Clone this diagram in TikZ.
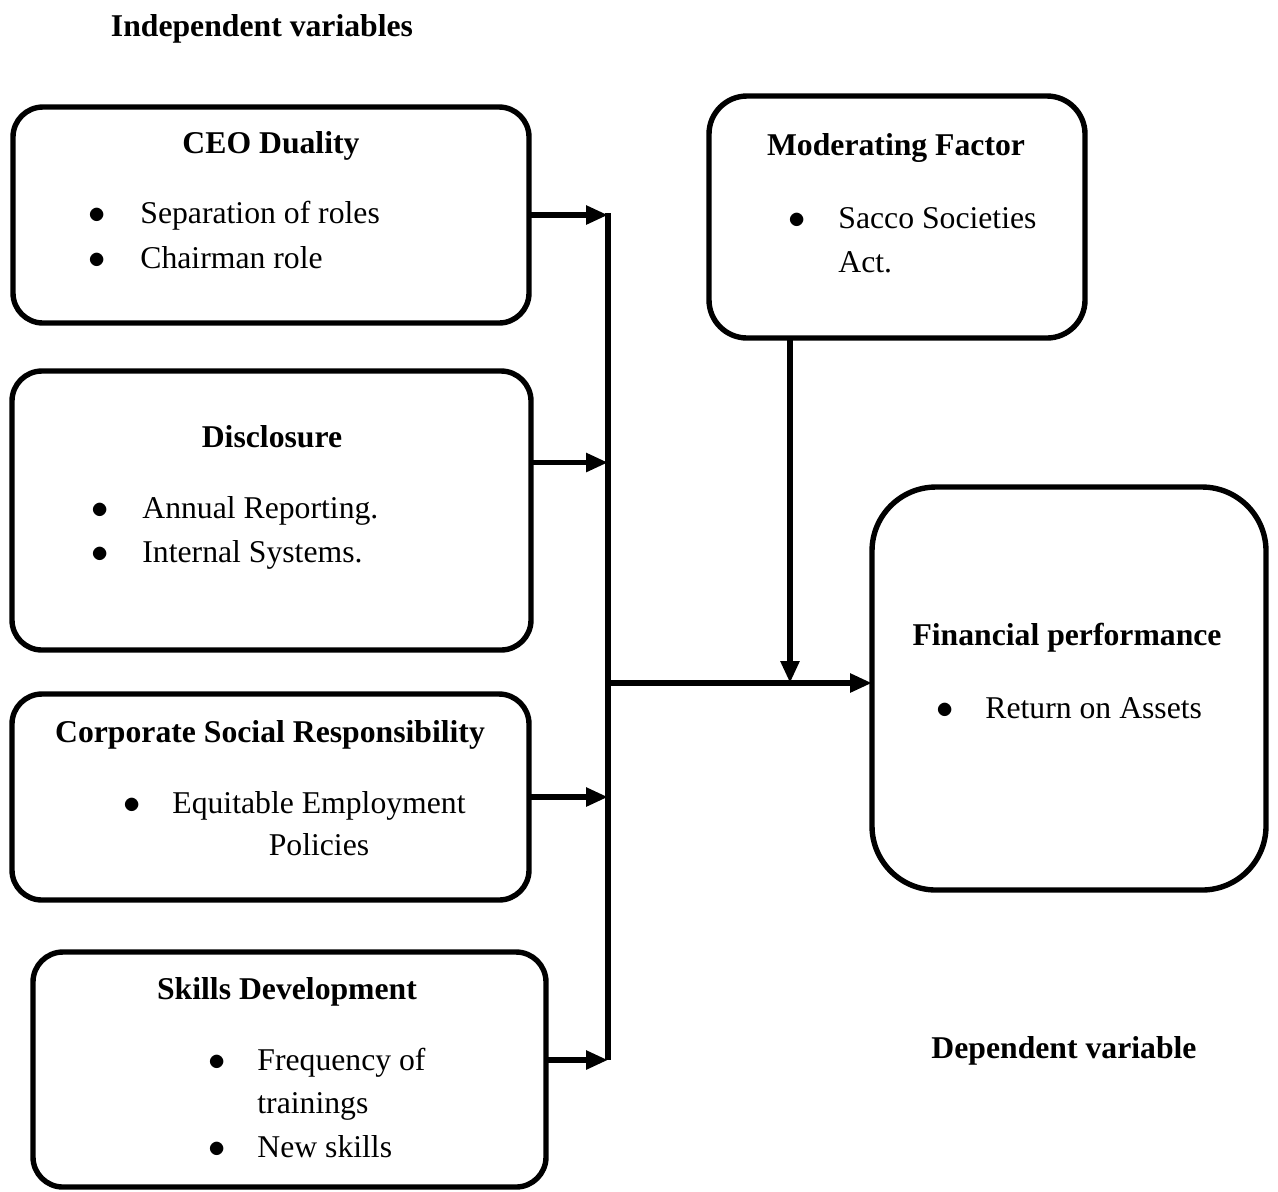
\documentclass[tikz,border=0pt]{standalone}
\usepackage{fontspec}
\setmainfont{Liberation Serif}
\usetikzlibrary{arrows.meta,positioning}
\newcommand{\bodysize}{\fontsize{15.85pt}{22pt}\selectfont}
\newcommand{\blt}{$\bullet$}
\tikzset{
  box/.style  = {rectangle, rounded corners=15pt, draw=black, line width=2.7pt,
                 inner sep=0pt, outer sep=0pt},
  ttl/.style  = {font=\bodysize\bfseries, anchor=base, inner sep=0pt},
  itm/.style  = {font=\bodysize, anchor=base west, inner sep=0pt},
  dot/.style  = {font=\bodysize, anchor=base, inner sep=0pt},
  arr/.style  = {-{Triangle[length=11pt,width=9pt]}, line width=2.8pt},
  bus/.style  = {line width=2.8pt}
}

\begin{document}
\begin{tikzpicture}[x=0.5pt, y=-0.5pt]
  \useasboundingbox (0,0) rectangle (1278,1191);
  % boxes
  \node[box, minimum width=258pt, minimum height=108pt]   (ceo)  at (271,215) {};
  \node[box, minimum width=259.5pt, minimum height=139.5pt] (disc) at (271.5,510.5) {};
  \node[box, minimum width=258.5pt, minimum height=103pt] (csr)  at (270.5,797) {};
  \node[box, minimum width=256.5pt, minimum height=117.5pt] (skl) at (289.5,1069.5) {};
  \node[box, rounded corners=19pt, minimum width=188pt, minimum height=121pt] (mod) at (897,217) {};
  \node[box, rounded corners=32pt, minimum width=197pt, minimum height=201.5pt] (fin) at (1069,688.5) {};
  % headings
  \node[ttl] (indep) at (262,36) {Independent variables};
  \node[ttl] (dep)   at (1064,1058) {Dependent variable};
  % CEO duality
  \node[ttl] (ceot) at (271,153) {CEO Duality};
  \node[dot] (ceod1) at (97,223) {\blt};
  \node[itm] (ceo1)  at (140,223) {Separation of roles};
  \node[dot] (ceod2) at (97,268) {\blt};
  \node[itm] (ceo2)  at (140,268) {Chairman role};
  % disclosure
  \node[ttl] (disct) at (272,447) {Disclosure};
  \node[dot] (discd1) at (100,518) {\blt};
  \node[itm] (disc1)  at (142,518) {Annual Reporting.};
  \node[dot] (discd2) at (100,562) {\blt};
  \node[itm] (disc2)  at (142,562) {Internal Systems.};
  % CSR
  \node[ttl] (csrt) at (270,742) {Corporate Social Responsibility};
  \node[dot] (csrd1) at (132,813) {\blt};
  \node[itm] (csr1)  at (172,813) {Equitable Employment};
  \node[dot] (csr2)  at (319,855) {Policies};
  % skills
  \node[ttl] (sklt) at (287,999) {Skills Development};
  \node[dot] (skld1) at (217,1070) {\blt};
  \node[itm] (skl1)  at (257,1070) {Frequency of};
  \node[itm] (skl2)  at (257,1113) {trainings};
  \node[dot] (skld2) at (217,1157) {\blt};
  \node[itm] (skl3)  at (257,1157) {New skills};
  % moderating factor
  \node[ttl] (modt) at (896,155) {Moderating Factor};
  \node[dot] (modd1) at (797,228) {\blt};
  \node[itm] (mod1)  at (838,228) {Sacco Societies};
  \node[itm] (mod2)  at (838,272) {Act.};
  % financial performance
  \node[ttl] (fint) at (1067,645) {Financial performance};
  \node[dot] (find1) at (945,718) {\blt};
  \node[itm] (fin1)  at (985,718) {Return on Assets};
  % connectors
  \coordinate (bustop) at (608,213);
  \coordinate (busbot) at (608,1060);
  \coordinate (bus)    at (608,683);
  \coordinate (mj)     at (790,683);
  \draw[bus] (bustop) -- (busbot);
  \draw[arr] (ceo.east) -- (ceo.east -| bustop);
  \draw[arr] ([yshift=24pt]disc.east) -- ([yshift=24pt]disc.east -| bustop);
  \draw[arr] (csr.east) -- (csr.east -| bustop);
  \draw[arr] ([yshift=4.75pt]skl.east) -- (busbot);
  \draw[arr] (bus) -- (bus -| fin.west);
  \draw[arr] (mj |- mod.south) -- (mj);
\end{tikzpicture}
\end{document}
